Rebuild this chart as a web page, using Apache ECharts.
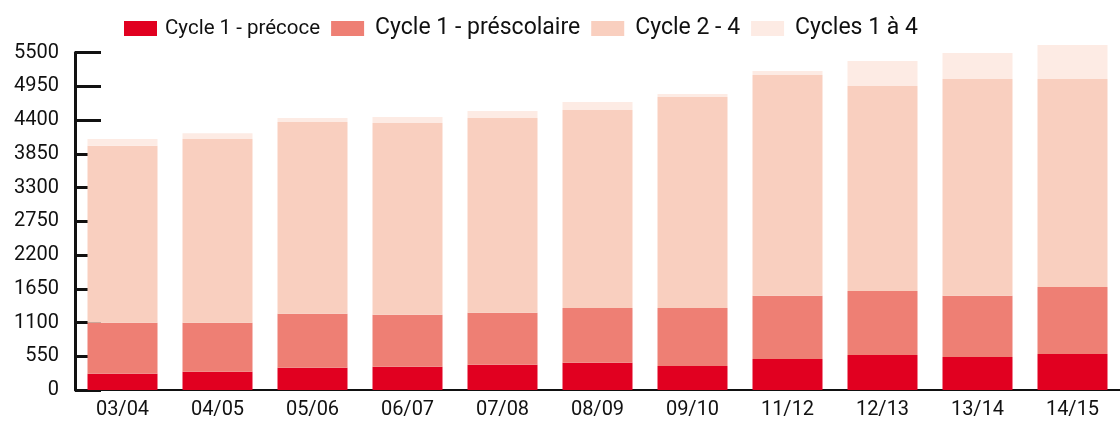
<!DOCTYPE html>
<html>
<head>
<meta charset="utf-8">
<script src="https://cdn.jsdelivr.net/npm/echarts@6/dist/echarts.min.js"></script>
<style>
html, body { margin: 0; padding: 0; background: #fff; }
#main { width: 1120px; height: 421px; }
</style>
</head>
<body>
<div id="main"></div>
<script>
// donnees
var annees = ['03/04', '04/05', '05/06', '06/07', '07/08', '08/09', '09/10', '11/12', '12/13', '13/14', '14/15'];
var precoce = [265, 296, 364, 380, 410, 446, 391, 505, 570, 538, 587];
var prescolaire = [832, 801, 880, 848, 850, 890, 945, 1032, 1043, 999, 1091];
var cycle24 = [2884, 2993, 3123, 3123, 3173, 3227, 3439, 3596, 3341, 3531, 3390];
var cycles14 = [109, 93, 66, 98, 114, 130, 49, 65, 407, 424, 554];
var yTicks = [0, 550, 1100, 1650, 2200, 2750, 3300, 3850, 4400, 4950, 5500];

var noms = ['Cycle 1 - précoce', 'Cycle 1 - préscolaire', 'Cycle 2 - 4', 'Cycles 1 à 4'];
var couleurs = ['#E10020', '#EE7F74', '#F9CFBF', '#FDEBE4'];
var valeurs = [precoce, prescolaire, cycle24, cycles14];

var police = 'Roboto, "Liberation Sans", sans-serif';

var myChart = echarts.init(document.getElementById('main'));

var series = [];
for (var i = 0; i < noms.length; i++) {
	series.push({
		name : noms[i],
		type : 'bar',
		stack : 'total',
		barWidth : 70,
		clip : false, // la derniere barre depasse 5500
		itemStyle : { color : couleurs[i] },
		data : valeurs[i]
	});
}

var option = {
	animation : false,
	backgroundColor : '#fff',
	legend : {
		top : 12,
		left : 119,
		itemWidth : 33,
		itemHeight : 15,
		itemGap : 11,
		icon : 'rect',
		data : noms,
		formatter : function(name) {
			return name === noms[0] ? '{s|' + name + '}' : '{b|' + name + '}';
		},
		textStyle : {
			color : '#111',
			fontFamily : police,
			rich : {
				s : { fontSize : 20.5, fontFamily : police, color : '#111', padding : [0, 0, 0, 3] },
				b : { fontSize : 23, fontFamily : police, color : '#111', padding : [0, 0, 0, 6] }
			}
		}
	},
	grid : {
		left : 75,
		top : 52.5,
		width : 1056,
		height : 337.5
	},
	xAxis : {
		type : 'category',
		data : annees,
		axisLine : { lineStyle : { color : '#111', width : 2 } },
		axisTick : { inside : true, length : 7, lineStyle : { color : '#111', width : 2 } },
		axisLabel : { color : '#111', fontSize : 20, fontFamily : police, margin : 10 }
	},
	yAxis : {
		type : 'value',
		min : yTicks[0],
		max : yTicks[yTicks.length - 1],
		interval : 550,
		splitLine : { show : false },
		axisLine : { show : true, lineStyle : { color : '#111', width : 3 } },
		axisTick : { show : true, inside : true, length : 26, lineStyle : { color : '#111', width : 3 } },
		axisLabel : {
			color : '#111', fontSize : 20, fontFamily : police, margin : 16,
			formatter : function(v) { return String(v); }
		}
	},
	series : series
};

myChart.setOption(option);
</script>
</body>
</html>
